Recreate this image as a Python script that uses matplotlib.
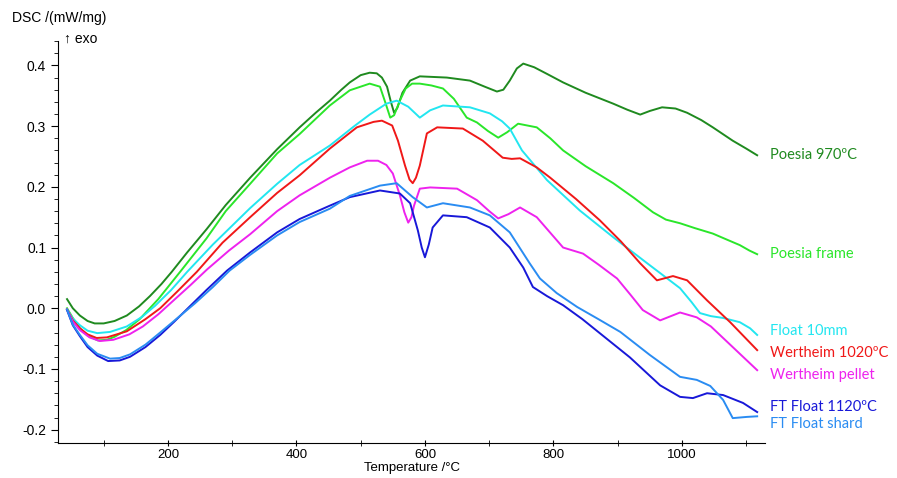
import matplotlib
matplotlib.use("Agg")
import matplotlib.pyplot as plt
from matplotlib.ticker import MultipleLocator, FuncFormatter

# DSC curves (temperature in °C, DSC in mW/mg)
t_p970 = [43, 52, 63, 75, 86, 100, 117, 136, 155, 172, 190, 206, 230, 260, 290, 328, 370, 405, 430,
          452, 470, 483, 500, 514, 525, 533, 541, 547, 552, 557, 565, 577, 592, 634, 670, 693, 712,
          722, 732, 743, 753, 770, 790, 815, 850, 893, 915, 935, 950, 969, 990, 1008, 1030, 1048,
          1079, 1100, 1117]
v_p970 = [0.015, 0.0, -0.012, -0.021, -0.025, -0.025, -0.021, -0.012, 0.003, 0.020, 0.040, 0.060,
          0.092, 0.130, 0.170, 0.215, 0.262, 0.298, 0.322, 0.342, 0.360, 0.372, 0.384, 0.388, 0.387,
          0.380, 0.365, 0.340, 0.322, 0.330, 0.355, 0.375, 0.382, 0.380, 0.375, 0.365, 0.357, 0.360,
          0.375, 0.395, 0.403, 0.397, 0.386, 0.372, 0.355, 0.337, 0.327, 0.319, 0.325, 0.331, 0.329,
          0.322, 0.310, 0.298, 0.276, 0.263, 0.252]

t_frame = [43, 52, 63, 75, 91, 105, 117, 135, 156, 185, 219, 260, 290, 328, 370, 405, 452, 483, 514,
           530, 538, 546, 552, 561, 570, 580, 592, 610, 628, 645, 665, 681, 698, 714, 728, 745, 774,
           795, 815, 850, 893, 925, 955, 975, 997, 1020, 1048, 1070, 1090, 1105, 1117]
v_frame = [0.0, -0.016, -0.033, -0.045, -0.053, -0.052, -0.047, -0.036, -0.018, 0.015, 0.060, 0.115,
           0.160, 0.205, 0.255, 0.287, 0.334, 0.359, 0.370, 0.365, 0.340, 0.314, 0.318, 0.342,
           0.362, 0.370, 0.370, 0.367, 0.362, 0.345, 0.314, 0.306, 0.292, 0.281, 0.290, 0.304,
           0.298, 0.280, 0.260, 0.234, 0.206, 0.182, 0.158, 0.146, 0.140, 0.132, 0.123, 0.113,
           0.104, 0.095, 0.089]

t_float = [43, 52, 63, 75, 90, 110, 136, 160, 180, 205, 230, 270, 328, 370, 405, 452, 490, 514, 540,
           556, 574, 592, 608, 628, 670, 701, 720, 732, 751, 790, 841, 893, 946, 997, 1015, 1028,
           1045, 1064, 1090, 1106, 1117]
v_float = [-0.002, -0.017, -0.028, -0.037, -0.041, -0.039, -0.030, -0.014, 0.004, 0.030, 0.060,
           0.105, 0.165, 0.205, 0.236, 0.268, 0.300, 0.319, 0.337, 0.342, 0.332, 0.314, 0.326,
           0.334, 0.331, 0.321, 0.308, 0.296, 0.260, 0.211, 0.161, 0.117, 0.074, 0.033, 0.010,
           -0.008, -0.013, -0.016, -0.023, -0.033, -0.044]

t_w1020 = [43, 52, 63, 75, 89, 105, 136, 165, 188, 215, 245, 285, 328, 370, 405, 452, 494, 520, 533,
           549, 558, 569, 576, 581, 586, 592, 603, 619, 659, 690, 721, 735, 748, 774, 795, 835, 872,
           905, 935, 961, 986, 1008, 1039, 1075, 1117]
v_w1020 = [-0.002, -0.020, -0.033, -0.043, -0.049, -0.048, -0.038, -0.018, 0.0, 0.028, 0.060, 0.108,
           0.150, 0.190, 0.219, 0.263, 0.298, 0.307, 0.309, 0.301, 0.276, 0.235, 0.212, 0.206,
           0.215, 0.235, 0.288, 0.298, 0.296, 0.276, 0.248, 0.246, 0.247, 0.232, 0.215, 0.180,
           0.145, 0.110, 0.074, 0.046, 0.053, 0.046, 0.013, -0.023, -0.069]

t_pellet = [43, 52, 63, 78, 94, 115, 140, 161, 185, 211, 235, 261, 295, 328, 370, 405, 452, 483,
            510, 527, 540, 550, 561, 568, 574, 579, 583, 592, 608, 650, 681, 700, 714, 730, 748, 774,
            815, 846, 870, 899, 920, 939, 966, 997, 1023, 1045, 1064, 1090, 1117]
v_pellet = [-0.002, -0.022, -0.036, -0.048, -0.054, -0.052, -0.043, -0.030, -0.010, 0.015, 0.038,
            0.064, 0.095, 0.122, 0.160, 0.186, 0.215, 0.232, 0.243, 0.243, 0.236, 0.222, 0.186,
            0.158, 0.141, 0.150, 0.169, 0.197, 0.199, 0.197, 0.178, 0.160, 0.148, 0.155, 0.166,
            0.150, 0.100, 0.090, 0.072, 0.049, 0.022, -0.003, -0.020, -0.007, -0.015, -0.030,
            -0.049, -0.075, -0.102]

t_ft1120 = [43, 52, 63, 75, 90, 107, 125, 141, 165, 188, 210, 234, 260, 292, 328, 370, 405, 452,
            483, 530, 561, 577, 589, 595, 600, 606, 612, 628, 665, 701, 732, 753, 768, 790, 815,
            845, 872, 919, 966, 997, 1017, 1039, 1064, 1095, 1117]
v_ft1120 = [-0.003, -0.028, -0.046, -0.064, -0.078, -0.087, -0.086, -0.080, -0.064, -0.044, -0.022,
            0.003, 0.030, 0.062, 0.092, 0.125, 0.147, 0.169, 0.183, 0.194, 0.189, 0.173, 0.128,
            0.100, 0.084, 0.105, 0.133, 0.153, 0.150, 0.133, 0.100, 0.067, 0.035, 0.020, 0.005,
            -0.018, -0.041, -0.081, -0.127, -0.146, -0.148, -0.140, -0.143, -0.156, -0.171]

t_shard = [43, 52, 63, 75, 90, 110, 125, 141, 165, 188, 215, 242, 270, 296, 328, 370, 405, 452, 483,
           530, 556, 581, 603, 628, 670, 701, 732, 763, 779, 805, 837, 870, 904, 950, 997, 1023,
           1044, 1064, 1079, 1101, 1117]
v_shard = [-0.002, -0.027, -0.044, -0.061, -0.075, -0.083, -0.082, -0.076, -0.060, -0.040, -0.016,
           0.008, 0.035, 0.062, 0.088, 0.120, 0.142, 0.164, 0.185, 0.202, 0.206, 0.183, 0.166,
           0.173, 0.166, 0.153, 0.125, 0.074, 0.049, 0.025, 0.002, -0.018, -0.039, -0.077, -0.113,
           -0.118, -0.128, -0.151, -0.181, -0.179, -0.178]

names = ["Poesia 970ºC", "Poesia frame", "Float 10mm", "Wertheim 1020ºC",
         "Wertheim pellet", "FT Float 1120ºC", "FT Float shard"]
label_y = [0.252, 0.089, -0.038, -0.074, -0.110, -0.163, -0.191]

series = [(t_p970, v_p970), (t_frame, v_frame), (t_float, v_float), (t_w1020, v_w1020),
          (t_pellet, v_pellet), (t_ft1120, v_ft1120), (t_shard, v_shard)]
colors = ["#1f8a1f", "#2ae62a", "#22e6f0", "#f01818", "#ee22ee", "#1818d8", "#2a8cf2"]

plt.rcParams['font.family'] = ['Liberation Sans', 'DejaVu Sans']

fig = plt.figure(figsize=(8.97, 4.78), dpi=100)
ax = fig.add_axes([0.0647, 0.0732, 0.788, 0.842])

for (t, v), c in zip(series, colors):
    ax.plot(t, v, color=c, lw=1.4)

for name, y, c in zip(names, label_y, colors):
    ax.text(1137, y, name, color=c, fontsize=10.5, family=['Lato', 'DejaVu Sans'],
            va='center', ha='left', clip_on=False)

ax.set_xlim(29, 1129)
ax.set_ylim(-0.222, 0.441)

ax.spines['top'].set_visible(False)
ax.spines['right'].set_visible(False)

ax.xaxis.set_major_locator(MultipleLocator(200))
ax.xaxis.set_minor_locator(MultipleLocator(100))
ax.yaxis.set_major_locator(MultipleLocator(0.1))
ax.yaxis.set_minor_locator(MultipleLocator(0.02))
ax.yaxis.set_major_formatter(FuncFormatter(lambda v, p: f"{v:.1f}".replace("-0.0", "0.0")))
ax.tick_params(axis='x', which='both', direction='inout', length=5, labelsize=9.5, pad=1.5)
ax.tick_params(axis='y', which='major', direction='out', length=5, labelsize=10)
ax.tick_params(axis='y', which='minor', direction='out', length=3)

fig.text(0.459, 0.021, "Temperature /°C", fontsize=9.5, va='center', ha='center')
fig.text(0.013, 0.978, "DSC /(mW/mg)", fontsize=10, va='top', ha='left')
fig.text(0.071, 0.92, "↑ exo", fontsize=10, va='center', ha='left')

fig.savefig("out.png", dpi=100)
